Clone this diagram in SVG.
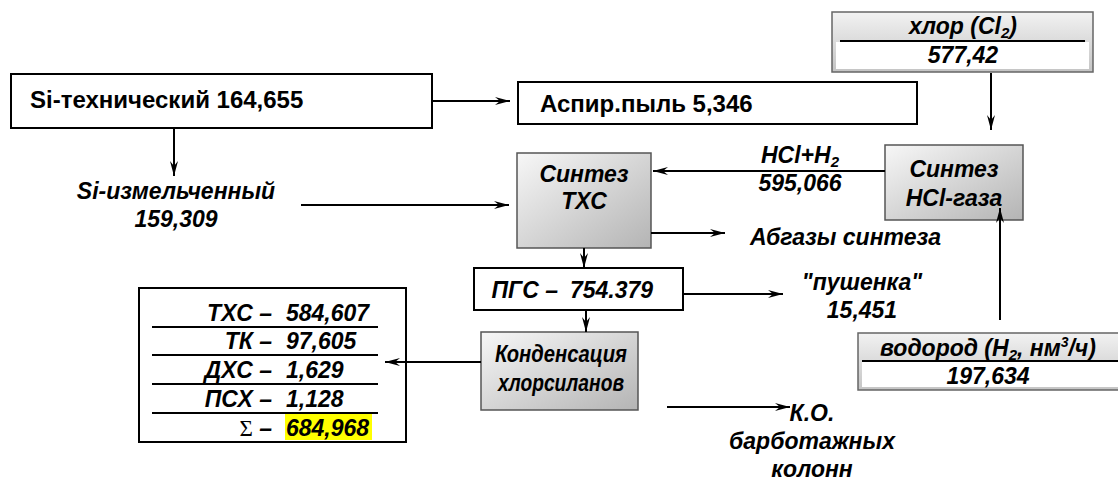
<svg xmlns="http://www.w3.org/2000/svg" width="1118" height="481" viewBox="0 0 1118 481">
<defs>
<linearGradient id="g" x1="0" y1="0" x2="1" y2="1">
<stop offset="0" stop-color="#f7f7f7"/>
<stop offset="1" stop-color="#b4b4b4"/>
</linearGradient>
<linearGradient id="gh" x1="0" y1="0" x2="0" y2="1">
<stop offset="0" stop-color="#f2f2f2"/>
<stop offset="1" stop-color="#c4c4c4"/>
</linearGradient>
<marker id="a" markerUnits="userSpaceOnUse" markerWidth="16" markerHeight="10" refX="15" refY="5" orient="auto">
<path d="M0,1 L15,5 L0,9 L5,5 z" fill="#000"/>
</marker>
<style>
.t{font-family:"Liberation Sans",Arial,sans-serif;font-weight:bold;font-style:italic;font-size:23px;fill:#000}
.n{font-style:normal;font-size:24px}
.m{text-anchor:middle}
.e{text-anchor:end}
.box{fill:#fff;stroke:#000;stroke-width:2}
.gb{fill:url(#g);stroke:#555;stroke-width:1.5}
.c{fill:none;stroke:#000;stroke-width:2;marker-end:url(#a)}
.ln{stroke:#000;stroke-width:2}
</style>
</defs>
<rect width="1118" height="481" fill="#fff"/>

<g id="si-tech">
<rect class="box" x="11" y="74" width="421" height="54"/>
<text class="t n" x="30" y="108">Si-технический 164,655</text>
</g>
<g id="aspir">
<rect class="box" x="518" y="82" width="399" height="42"/>
<text class="t n" x="540" y="112">Аспир.пыль 5,346</text>
</g>
<g id="si-izm">
<text class="t m" x="176" y="199">Si-измельченный</text>
<text class="t m" x="176" y="227">159,309</text>
</g>
<g id="chlor">
<rect x="832" y="12" width="261" height="60" fill="url(#gh)" stroke="#666" stroke-width="1.5"/>
<rect x="836" y="42" width="253" height="27" fill="#fff"/>
<line class="ln" x1="840" y1="41" x2="1085" y2="41"/>
<text class="t m" x="963" y="34">хлор (Cl<tspan font-size="15" dy="4">2</tspan><tspan dy="-4">)</tspan></text>
<text class="t m" x="963" y="63">577,42</text>
</g>
<g id="sintez-txs">
<rect class="gb" x="517" y="153" width="134" height="95"/>
<text class="t m" x="584" y="182">Синтез</text>
<text class="t m" x="584" y="209">ТХС</text>
</g>
<g id="hcl-label">
<text class="t m" x="800" y="163">HCl+H<tspan font-size="15" dy="4">2</tspan></text>
<text class="t m" x="800" y="191">595,066</text>
</g>
<g id="sintez-hcl">
<rect class="gb" x="885" y="145" width="138" height="75"/>
<text class="t m" x="954" y="177">Синтез</text>
<text class="t m" x="954" y="206">HCl-газа</text>
</g>
<g id="abgazy">
<text class="t" x="750" y="245">Абгазы синтеза</text>
</g>
<g id="pgs">
<rect class="box" x="474" y="268" width="209" height="42"/>
<text class="t e" x="558" y="298">ПГС –</text>
<text class="t" x="570" y="298">754.379</text>
</g>
<g id="pushenka">
<text class="t m" x="862" y="290">"пушенка"</text>
<text class="t m" x="862" y="318">15,451</text>
</g>
<g id="vodorod">
<rect x="858" y="333" width="262" height="57" fill="url(#gh)" stroke="#666" stroke-width="1.5"/>
<rect x="862" y="362" width="256" height="25" fill="#fff"/>
<line class="ln" x1="862" y1="361" x2="1118" y2="361"/>
<text class="t m" x="988" y="356">водород (H<tspan font-size="15" dy="4">2</tspan><tspan dy="-4">, нм</tspan><tspan font-size="14" dy="-9">3</tspan><tspan dy="9">/ч)</tspan></text>
<text class="t m" x="988" y="384">197,634</text>
</g>
<g id="kondensaciya">
<rect class="gb" x="481" y="332" width="157" height="78"/>
<text class="t m" x="561" y="362" textLength="132" lengthAdjust="spacingAndGlyphs">Конденсация</text>
<text class="t m" x="561" y="391" textLength="126" lengthAdjust="spacingAndGlyphs">хлорсиланов</text>
</g>
<g id="ko">
<text class="t m" x="812" y="421">К.О.</text>
<text class="t m" x="812" y="449">барботажных</text>
<text class="t m" x="812" y="477">колонн</text>
</g>
<g id="table">
<rect class="box" x="139" y="288" width="267" height="154"/>
<line class="ln" x1="152" y1="327" x2="378" y2="327"/>
<line class="ln" x1="152" y1="355" x2="378" y2="355"/>
<line class="ln" x1="152" y1="384" x2="378" y2="384"/>
<line class="ln" x1="152" y1="413" x2="378" y2="413"/>
<rect x="285" y="414" width="87" height="26" fill="#ffff00"/>
<text class="t e" x="272" y="321">ТХС –</text><text class="t" x="286" y="321">584,607</text>
<text class="t e" x="272" y="349">ТК –</text><text class="t" x="286" y="349">97,605</text>
<text class="t e" x="272" y="378">ДХС –</text><text class="t" x="286" y="378">1,629</text>
<text class="t e" x="272" y="407">ПСХ –</text><text class="t" x="286" y="407">1,128</text>
<text class="t e" x="272" y="436"><tspan font-family="Liberation Serif" font-weight="normal" font-style="normal">Σ</tspan> –</text><text class="t" x="286" y="436">684,968</text>
</g>

<g id="connectors">
<path class="c" d="M432,101 H510"/>
<path class="c" d="M174,128 V176"/>
<path class="c" d="M301,205 H509"/>
<path class="c" d="M991,73 V130"/>
<path class="c" d="M885,171 H653"/>
<path class="c" d="M1000,320 V208"/>
<path class="c" d="M651,233 H725"/>
<path class="c" d="M584,248 V268"/>
<path class="c" d="M683,294 H783"/>
<path class="c" d="M586,310 V332"/>
<path class="c" d="M481,362 H385"/>
<path class="c" d="M667,407 H790"/>
</g>
</svg>
